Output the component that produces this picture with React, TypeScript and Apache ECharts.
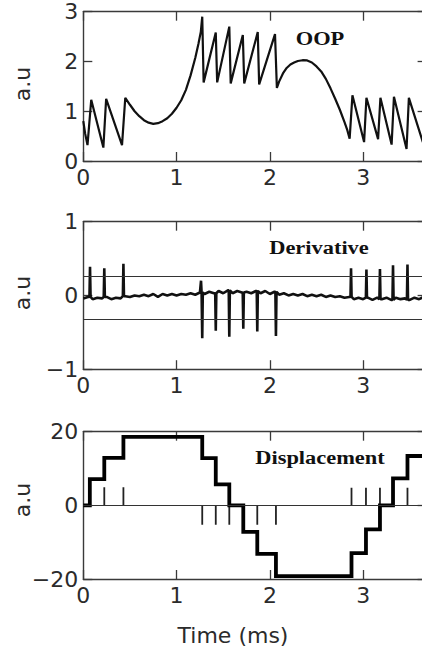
import React, { useEffect, useRef } from "react";
import * as echarts from "echarts";

// ---------- DATA ----------
const X_MAX = 3.68;
const xTickValues = [0, 1, 2, 3];

// OOP signal: [time (ms), a.u]
const oopPoints: number[][] = [
  [0, 0.8], [0.02, 0.55], [0.045, 0.32], [0.085, 1.23], [0.215, 0.27], [0.245, 1.25],
  [0.415, 0.32], [0.45, 1.27], [0.5, 1.13], [0.55, 1.0], [0.6, 0.9], [0.65, 0.82],
  [0.7, 0.77], [0.75, 0.745], [0.8, 0.76], [0.85, 0.8], [0.9, 0.86], [0.95, 0.95],
  [1.0, 1.07], [1.05, 1.22], [1.1, 1.43], [1.15, 1.72], [1.2, 2.07], [1.235, 2.36],
  [1.26, 2.6], [1.275, 2.9], [1.29, 1.58], [1.42, 2.58], [1.435, 1.58], [1.565, 2.7],
  [1.58, 1.56], [1.71, 2.53], [1.725, 1.56], [1.87, 2.59], [1.885, 1.54], [2.055, 2.55],
  [2.075, 1.47], [2.1, 1.6], [2.14, 1.76], [2.18, 1.87], [2.22, 1.94], [2.26, 1.98],
  [2.3, 2.01], [2.35, 2.025], [2.4, 2.02], [2.45, 1.98], [2.5, 1.9], [2.55, 1.8],
  [2.6, 1.65], [2.65, 1.46], [2.7, 1.25], [2.75, 1.03], [2.8, 0.78], [2.83, 0.62],
  [2.855, 0.45], [2.885, 1.32], [3.01, 0.38], [3.035, 1.27], [3.16, 0.44], [3.185, 1.27],
  [3.305, 0.33], [3.33, 1.29], [3.465, 0.24], [3.49, 1.27], [3.64, 0.38], [3.66, 1.25],
  [3.68, 1.12],
];

// Derivative: baseline (sampled every 0.05 ms from 0) and spikes [time, peak]
const derivStep = 0.05;
const derivBaseline = [
  -0.04, -0.02, -0.05, -0.03, -0.04, -0.02, -0.05, -0.03, -0.04, -0.01,
  -0.02, 0.0, -0.01, 0.01, -0.01, 0.02, -0.02, 0.02, 0.0, 0.02,
  0.0, 0.02, 0.01, 0.03, 0.01, 0.04, 0.02, 0.05, 0.03, 0.06,
  0.03, 0.07, 0.03, 0.06, 0.04, 0.05, 0.03, 0.06, 0.03, 0.06,
  0.02, 0.05, 0.01, 0.03, 0.0, 0.02, 0.0, 0.02, -0.01, 0.01,
  -0.01, 0.01, -0.02, 0.0, -0.02, -0.01, -0.03, -0.02, -0.05, -0.03,
  -0.05, -0.03, -0.06, -0.03, -0.05, -0.03, -0.06, -0.03, -0.05, -0.04,
  -0.06, -0.03, -0.05, -0.02, -0.04,
];
const derivSpikes: number[][] = [
  [0.072, 0.39], [0.225, 0.37], [0.43, 0.43],
  [1.262, 0.2], [1.275, -0.58], [1.42, -0.48], [1.565, -0.56], [1.715, -0.45], [1.865, -0.49], [2.065, -0.55],
  [2.87, 0.37], [3.035, 0.35], [3.18, 0.36], [3.32, 0.41], [3.475, 0.42],
];
const derivThresholds = [0.26, -0.32];

// Displacement: step times, level before first step then after each step, impulse heights
const stepTimes = [0.07, 0.225, 0.43, 1.275, 1.42, 1.565, 1.715, 1.865, 2.065, 2.875, 3.03, 3.18, 3.32, 3.475];
const stepLevels = [0, 7.1, 12.9, 18.6, 12.8, 5.7, 0, -7.2, -13.2, -19.2, -13, -6.5, 0, 7.3, 13.4];
const impulseHeights = [5, 4.9, 4.9, -5.3, -5.3, -5.3, -5.3, -5.3, -5.3, 4.8, 4.8, 4.8, 4.8, 4.8];

const panelTitles = ["OOP", "Derivative", "Displacement"];
const yLabel = "a.u";
const xLabel = "Time (ms)";

// ---------- LAYOUT ----------
const LEFT = 83.3;
const WIDTH = 343.3;
const panels = [
  { top: 11.7, height: 149.3, min: 0, max: 3, interval: 1, nameY: 84, titleX: 320, titleY: 38 },
  { top: 221.7, height: 147.5, min: -1, max: 1, interval: 1, nameY: 293, titleX: 319, titleY: 247 },
  { top: 431.7, height: 147.3, min: -20, max: 20, interval: 20, nameY: 500, titleX: 320, titleY: 457 },
];
const AXIS_COLOR = "#3a3a3a";
const LABEL_COLOR = "#2b2b2b";
const FONT = "DejaVu Sans";

const fmt = (v: number) => {
  if (Math.abs(v - Math.round(v)) > 1e-9) return "";
  return String(Math.round(v)).replace("-", "\u2212");
};

function buildOption() {
  const grid = panels.map((p) => ({ left: LEFT, top: p.top, width: WIDTH, height: p.height }));
  const xAxis: any[] = [];
  const yAxis: any[] = [];
  panels.forEach((p, g) => {
    ["bottom", "top"].forEach((pos) => {
      xAxis.push({
        gridIndex: g,
        type: "value",
        position: pos,
        min: 0,
        max: X_MAX,
        interval: 1,
        axisLine: { show: true, onZero: false, lineStyle: { color: AXIS_COLOR, width: 1.4 } },
        axisTick: { show: true, inside: true, length: 9, lineStyle: { color: AXIS_COLOR, width: 1.3 } },
        axisLabel: {
          show: pos === "bottom",
          margin: 5,
          fontSize: 22,
          fontFamily: FONT,
          color: LABEL_COLOR,
          formatter: (v: number) => (xTickValues.indexOf(v) >= 0 ? fmt(v) : ""),
        },
        splitLine: { show: false },
      });
    });
    ["left", "right"].forEach((pos) => {
      yAxis.push({
        gridIndex: g,
        type: "value",
        position: pos,
        min: p.min,
        max: p.max,
        interval: p.interval,
        axisLine: { show: true, onZero: false, lineStyle: { color: AXIS_COLOR, width: 1.4 } },
        axisTick: { show: true, inside: true, length: 9, lineStyle: { color: AXIS_COLOR, width: 1.3 } },
        axisLabel: {
          show: pos === "left",
          margin: 5,
          fontSize: 22,
          fontFamily: FONT,
          color: LABEL_COLOR,
          formatter: fmt,
        },
        splitLine: { show: false },
      });
    });
  });

  // derivative data assembled from baseline + spikes
  const derivData: number[][] = derivBaseline.map((v, i) => [+(i * derivStep).toFixed(3), v]);
  derivSpikes.forEach(([t, peak]) => {
    const b = derivBaseline[Math.min(derivBaseline.length - 1, Math.round(t / derivStep))];
    derivData.push([t - 0.006, b], [t, peak], [t + 0.006, b]);
  });
  derivData.sort((a, b) => a[0] - b[0]);

  const stepData: number[][] = [[0, stepLevels[0]]];
  stepTimes.forEach((t, k) => stepData.push([t, stepLevels[k + 1]]));
  stepData.push([X_MAX, stepLevels[stepLevels.length - 1]]);

  const impulseData: any[] = [];
  stepTimes.forEach((t, k) => {
    impulseData.push([t, 0], [t, impulseHeights[k]], [t, "-"]);
  });

  const series: any[] = [
    {
      type: "line",
      xAxisIndex: 0,
      yAxisIndex: 0,
      data: oopPoints,
      showSymbol: false,
      symbol: "none",
      lineStyle: { color: "#111", width: 2.2 },
      silent: true,
    },
    {
      type: "line",
      xAxisIndex: 2,
      yAxisIndex: 2,
      data: derivData,
      showSymbol: false,
      symbol: "none",
      lineStyle: { color: "#111", width: 2.6 },
      silent: true,
      markLine: {
        silent: true,
        symbol: "none",
        label: { show: false },
        lineStyle: { color: "#333", width: 1.1, type: "solid" },
        data: derivThresholds.map((v) => ({ yAxis: v })),
      },
    },
    {
      type: "line",
      xAxisIndex: 4,
      yAxisIndex: 4,
      data: impulseData,
      showSymbol: false,
      symbol: "none",
      connectNulls: false,
      lineStyle: { color: "#222", width: 1.8 },
      silent: true,
      markLine: {
        silent: true,
        symbol: "none",
        label: { show: false },
        lineStyle: { color: "#333", width: 1.2, type: "solid" },
        data: [{ yAxis: 0 }],
      },
    },
    {
      type: "line",
      xAxisIndex: 4,
      yAxisIndex: 4,
      data: stepData,
      step: "end",
      showSymbol: false,
      symbol: "none",
      lineStyle: { color: "#000", width: 3.8, join: "miter", cap: "butt" },
      silent: true,
    },
  ];

  const graphic: any[] = [];
  panels.forEach((p, g) => {
    graphic.push({
      type: "text",
      x: 22,
      y: p.nameY,
      rotation: Math.PI / 2,
      silent: true,
      style: {
        text: yLabel,
        font: `22px "${FONT}"`,
        fill: LABEL_COLOR,
        textAlign: "center",
        textVerticalAlign: "middle",
      },
    });
    graphic.push({
      type: "text",
      x: p.titleX,
      y: p.titleY,
      scaleX: 1.18,
      silent: true,
      style: {
        text: panelTitles[g],
        font: `bold 19px "Liberation Serif"`,
        fill: "#111",
        textAlign: "center",
        textVerticalAlign: "middle",
      },
    });
  });
  graphic.push({
    type: "text",
    x: 233,
    y: 635,
    silent: true,
    style: {
      text: xLabel,
      font: `22px "${FONT}"`,
      fill: LABEL_COLOR,
      textAlign: "center",
      textVerticalAlign: "middle",
    },
  });

  return {
    animation: false,
    backgroundColor: "#fff",
    textStyle: { fontFamily: FONT },
    grid,
    xAxis,
    yAxis,
    series,
    graphic,
  };
}

export default function App() {
  const ref = useRef<HTMLDivElement>(null);
  useEffect(() => {
    if (!ref.current) return;
    const chart = echarts.init(ref.current, null, { renderer: "svg" });
    chart.setOption(buildOption() as any);
    return () => chart.dispose();
  }, []);
  return (
    <div
      style={{
        position: "fixed",
        left: 0,
        top: 0,
        width: 422,
        height: 654,
        overflow: "hidden",
        background: "#fff",
      }}
    >
      <div ref={ref} style={{ width: 440, height: 654 }} />
    </div>
  );
}
